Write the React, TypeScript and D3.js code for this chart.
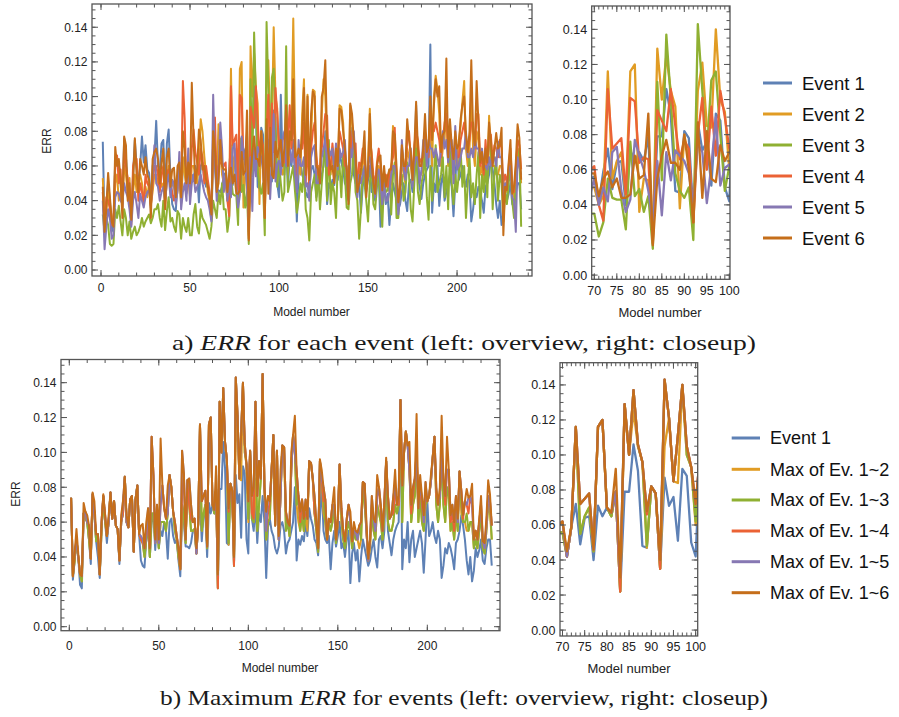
import React from "react";
import * as d3 from "d3";

// ERR for models 1–236, stored in thousandths
const EVENT_1 = [
  74,27,38,50,40,24,22,65,62,60, 50,36,76,65,49,40,28,55,75,60,
  48,60,77,62,72,58,56,36,60,65, 86,60,57,73,75,43,73,81,53,38,
  35,34,50,58,40,60,65,44,60,45, 55,52,60,55,39,60,62,52,48,50,
  38,29,65,60,46,46,45,48,55,
  56,42,59,72,49,64,65,40,71,65,70,
  65,79,22,79,79,106,91,48,47,82, 78,35,87,71,76,51,92,88,50,42,
  101,62,55,70,48,65,60,75,60,28, 57,62,55,52,45,42,46,58,60,55,
  42,48,50,55,60,80,38,50,47,52, 49,60,52,68,62,58,50,48,41,62,
  82,55,50,48,52,33,48,55,46,52, 60,45,48,40,50,55,25,42,48,38,
  44,26,40,50,45,40,35,38,45,50, 40,34,50,52,45,55,95,55,48,41,
  50,55,58,60,130,33,50,45,60,37, 50,55,40,45,50,55,48,31,50,72,
  52,55,60,52,48,55,50,28,35,45, 42,48,45,40,33,48,50,55,64,58,
  50,38,30,40,26,32,45,40,44,50, 38,36,45,50,50,35,
];
const EVENT_2 = [
  53,29,35,45,38,30,26,50,55,40, 45,39,60,55,45,53,30,45,55,45,
  52,55,50,40,48,42,50,38,45,55, 55,50,54,48,50,38,52,60,46,50,
  48,40,45,55,38,65,55,48,55,42, 60,60,55,50,65,87,80,66,55,45,
  40,33,70,65,48,84,70,55,50,
  50,40,45,116,55,65,70,45,116,120,36,
  55,54,20,129,100,125,105,96,38,80, 65,32,105,121,85,84,140,100,93,60,
  60,55,60,85,55,70,85,145,80,50, 60,55,90,110,58,101,50,75,104,103,
  55,60,52,90,110,100,70,60,55,65, 55,65,55,95,94,85,65,55,43,95,
  85,65,60,50,60,55,60,70,48,60, 93,60,50,45,55,60,55,45,55,50,
  50,45,50,83,70,55,38,45,65,55, 50,70,65,60,50,65,85,60,55,55,
  60,70,65,70,90,60,100,112,104,90, 60,70,75,100,60,75,60,55,70,60,
  75,83,97,109,70,60,70,100,70,60, 80,75,55,60,50,65,55,89,65,60,
  60,55,55,60,60,45,50,45,55,65, 45,42,55,70,65,50,
];
const EVENT_3 = [
  32,22,30,26,15,14,15,35,30,37, 28,20,35,30,20,28,18,22,25,20,
  22,25,30,25,28,30,32,27,30,35, 35,38,30,25,40,23,34,42,28,30,
  25,22,34,32,18,30,25,22,30,20, 20,32,38,25,21,35,30,28,26,22,
  18,25,40,35,30,45,38,50,35,
  35,22,30,55,44,43,43,26,76,45,49,
  36,45,15,110,54,137,100,58,48,44, 50,20,143,105,70,111,116,80,48,62,
  50,40,45,129,45,50,55,60,45,33, 40,50,45,60,35,30,17,45,50,55,
  40,58,35,50,62,70,40,75,38,50, 45,30,62,60,42,68,55,36,35,50,
  55,72,45,40,18,35,58,50,40,28, 50,62,38,35,48,55,40,25,52,45,
  46,58,32,55,62,30,30,48,55,40, 45,62,55,35,28,50,70,45,38,50,
  55,68,42,29,60,40,55,72,45,50, 55,65,42,60,35,68,50,38,55,45,
  55,70,48,60,30,50,65,42,50,38, 55,68,30,55,45,60,42,80,70,35,
  55,65,40,55,50,28,45,38,50,60, 40,30,50,60,70,25,
];
const EVENT_4 = [
  45,25,42,40,35,26,29,60,66,50, 58,35,73,60,53,45,26,60,65,64,
  40,50,45,38,55,50,48,37,50,60, 60,55,45,55,60,36,55,58,50,45,
  40,45,52,50,45,109,87,45,50,48, 70,81,68,62,55,70,65,50,60,52,
  45,30,75,88,50,60,62,62,60,
  62,40,31,106,72,75,78,46,101,99,64,
  67,66,18,94,88,82,106,85,66,77, 72,30,80,101,60,96,68,105,90,72,
  70,65,62,90,75,95,70,90,70,55, 65,72,70,85,50,75,45,70,80,85,
  66,55,58,70,80,90,89,55,60,73, 62,60,62,80,75,70,60,60,45,80,
  70,70,73,45,62,60,70,65,50,55, 75,68,55,49,62,70,60,49,52,55,
  48,55,60,65,82,50,36,50,70,62, 55,75,80,65,55,72,80,75,62,64,
  65,80,70,65,85,81,80,85,80,75, 65,75,85,90,68,80,70,60,75,65,
  65,75,80,85,75,70,75,85,85,70, 90,90,60,65,55,75,60,75,78,62,
  72,70,65,75,70,50,55,50,60,70, 49,45,58,75,72,58,
];
const EVENT_5 = [
  40,12,25,35,30,18,20,42,45,44, 40,38,50,45,42,35,25,40,45,38,
  30,44,40,36,42,45,46,38,55,72, 50,48,40,45,48,40,50,55,42,52,
  50,38,46,68,35,45,50,40,70,38, 50,55,45,48,50,55,50,45,42,40,
  35,28,101,62,40,55,85,70,45,
  55,40,50,42,70,73,48,36,43,77,68,
  60,48,30,65,34,70,54,71,68,65, 58,40,75,70,41,62,90,51,61,63,
  55,75,80,60,65,70,62,70,55,45, 75,60,60,65,48,50,40,65,70,72,
  50,50,55,65,70,75,60,70,66,70, 58,73,58,70,65,68,75,55,40,70,
  65,80,60,42,55,50,55,60,45,62, 65,55,52,42,55,58,50,38,50,40,
  40,45,55,60,60,52,32,42,75,58, 52,60,60,70,48,60,65,65,50,58,
  75,75,60,75,70,70,65,70,65,60, 70,80,70,75,62,70,75,50,83,58,
  60,65,70,70,80,65,65,70,65,75, 70,70,64,70,60,60,58,65,60,64,
  65,60,74,65,65,42,50,48,58,60, 42,40,22,65,60,55,
];
const EVENT_6 = [
  48,22,36,56,42,28,25,71,60,64, 52,30,77,72,40,50,29,50,76,55,
  45,64,60,55,65,55,52,30,64,68, 70,64,50,62,70,35,65,70,48,58,
  59,42,60,62,42,80,70,50,62,50, 108,75,50,58,81,75,58,60,52,48,
  42,32,80,70,45,50,75,60,58,
  58,45,55,59,50,55,44,44,46,68,55,
  57,92,17,55,68,77,64,64,60,80, 60,30,87,44,82,55,53,74,65,70,
  75,60,70,95,60,80,75,110,65,66, 70,65,80,105,55,100,52,90,103,100,
  60,58,50,100,105,121,75,65,58,60, 50,70,60,93,92,80,70,58,38,96,
  90,75,65,45,50,58,65,80,42,58, 90,62,50,44,60,65,66,46,60,48,
  54,58,58,80,78,60,39,48,72,60, 60,87,75,68,52,70,97,70,60,60,
  70,90,68,72,100,75,95,110,100,106, 68,78,80,122,65,87,72,64,80,70,
  72,87,95,100,78,68,80,121,80,72, 109,85,62,68,58,70,62,85,75,60,
  70,79,70,72,82,20,48,46,62,75, 44,48,62,84,76,52,
];

const COLORS = ["#5E81B5", "#E19C24", "#8FB032", "#EB6235", "#8778B3", "#C56E1A"];
const LEGEND_EACH = ["Event 1", "Event 2", "Event 3", "Event 4", "Event 5", "Event 6"];
const LEGEND_MAX = ["Event 1", "Max of Ev. 1~2", "Max of Ev. 1~3", "Max of Ev. 1~4", "Max of Ev. 1~5", "Max of Ev. 1~6"];
const Y_TICKS = [0, 0.02, 0.04, 0.06, 0.08, 0.1, 0.12, 0.14];
const OVERVIEW_TICKS = [0, 50, 100, 150, 200];
const CLOSEUP_TICKS = [70, 75, 80, 85, 90, 95, 100];

type Pt = { model: number; err: number };

const toPoints = (vals: number[]): Pt[] => vals.map((v, i) => ({ model: i + 1, err: v / 1000 }));

const EVENTS: Pt[][] = [EVENT_1, EVENT_2, EVENT_3, EVENT_4, EVENT_5, EVENT_6].map(toPoints);

// running maximum over events 1..k
const RUNNING_MAX: Pt[][] = EVENTS.map((_, k) =>
  EVENTS[0].map((p, i) => ({
    model: p.model,
    err: d3.max(EVENTS.slice(0, k + 1), (s) => s[i].err) as number,
  }))
);

type Box = { left: number; right: number; top: number; bottom: number };

interface PanelProps {
  id: string;
  box: Box;
  xDomain: [number, number];
  yDomain: [number, number];
  xTicks: number[];
  xMinor: number[];
  series: Pt[][];
  strokeWidth: number;
  tickFont: number;
  xLabelBaseline: number;
  titleX: number;
  titleBaseline: number;
  titleFont: number;
  yTitle?: { x: number; y: number };
}

const FRAME = "#555";
const TEXT = "#222";
const SANS = "'Liberation Sans', Arial, sans-serif";

function Panel(p: PanelProps) {
  const { box } = p;
  const x = d3.scaleLinear().domain(p.xDomain).range([box.left, box.right]);
  const y = d3.scaleLinear().domain(p.yDomain).range([box.bottom, box.top]);
  const line = d3
    .line<Pt>()
    .x((d) => x(d.model))
    .y((d) => y(d.err));
  const yMinor = d3.range(0, 0.1501, 0.005);
  const major = 6;
  const minor = 3.5;
  const fmt = d3.format(".2f");
  return (
    <g>
      <defs>
        <clipPath id={p.id}>
          <rect x={box.left} y={box.top} width={box.right - box.left} height={box.bottom - box.top} />
        </clipPath>
      </defs>
      <g clipPath={`url(#${p.id})`}>
        {p.series.map((s, k) => (
          <path
            key={k}
            d={line(s) ?? ""}
            fill="none"
            stroke={COLORS[k]}
            strokeWidth={p.strokeWidth}
            strokeLinejoin="round"
          />
        ))}
      </g>
      <g stroke={FRAME} strokeWidth={1}>
        {yMinor.map((v, i) => (
          <g key={`ym${i}`}>
            <line x1={box.left} x2={box.left + minor} y1={y(v)} y2={y(v)} />
            <line x1={box.right} x2={box.right - minor} y1={y(v)} y2={y(v)} />
          </g>
        ))}
        {Y_TICKS.map((v, i) => (
          <g key={`yM${i}`}>
            <line x1={box.left} x2={box.left + major} y1={y(v)} y2={y(v)} />
            <line x1={box.right} x2={box.right - major} y1={y(v)} y2={y(v)} />
          </g>
        ))}
        {p.xMinor.map((v, i) => (
          <g key={`xm${i}`}>
            <line x1={x(v)} x2={x(v)} y1={box.bottom} y2={box.bottom - minor} />
            <line x1={x(v)} x2={x(v)} y1={box.top} y2={box.top + minor} />
          </g>
        ))}
        {p.xTicks.map((v, i) => (
          <g key={`xM${i}`}>
            <line x1={x(v)} x2={x(v)} y1={box.bottom} y2={box.bottom - major} />
            <line x1={x(v)} x2={x(v)} y1={box.top} y2={box.top + major} />
          </g>
        ))}
      </g>
      <rect
        x={box.left}
        y={box.top}
        width={box.right - box.left}
        height={box.bottom - box.top}
        fill="none"
        stroke={FRAME}
        strokeWidth={1.3}
      />
      <g fontFamily={SANS} fontSize={p.tickFont} fill={TEXT}>
        {Y_TICKS.map((v, i) => (
          <text key={`yl${i}`} x={box.left - 4.5} y={y(v)} dy="0.36em" textAnchor="end">
            {fmt(v)}
          </text>
        ))}
        {p.xTicks.map((v, i) => (
          <text key={`xl${i}`} x={x(v)} y={p.xLabelBaseline} textAnchor="middle">
            {v}
          </text>
        ))}
      </g>
      <text
        x={p.titleX}
        y={p.titleBaseline}
        textAnchor="middle"
        fontFamily={SANS}
        fontSize={p.titleFont}
        fill={TEXT}
      >
        Model number
      </text>
      {p.yTitle && (
        <text
          transform={`translate(${p.yTitle.x},${p.yTitle.y}) rotate(-90)`}
          textAnchor="middle"
          dy="0.36em"
          fontFamily={SANS}
          fontSize={12}
          fill={TEXT}
        >
          ERR
        </text>
      )}
    </g>
  );
}

function Legend({ labels, x1, x2, textX, rows, size }: { labels: string[]; x1: number; x2: number; textX: number; rows: number[]; size: number }) {
  return (
    <g fontFamily={SANS} fontSize={size} fill="#111">
      {labels.map((label, k) => (
        <g key={k}>
          <line x1={x1} x2={x2} y1={rows[k]} y2={rows[k]} stroke={COLORS[k]} strokeWidth={3} />
          <text x={textX} y={rows[k]} dy="0.36em">
            {label}
          </text>
        </g>
      ))}
    </g>
  );
}

const SERIF = "'Liberation Serif', 'Times New Roman', serif";

export default function App() {
  const overviewMinor = d3.range(0, 241, 10);
  const closeupMinor = d3.range(70, 101, 1);
  return (
    <svg
      width={899}
      height={717}
      viewBox="0 0 899 717"
      style={{ position: "absolute", left: 0, top: 0, background: "#fff" }}
    >
      <rect x={0} y={0} width={899} height={717} fill="#fff" />

      <Panel
        id="clip-a1"
        box={{ left: 92, right: 532, top: 4, bottom: 276 }}
        xDomain={[-5.06, 242.1]}
        yDomain={[-0.00346, 0.1534]}
        xTicks={OVERVIEW_TICKS}
        xMinor={overviewMinor}
        series={EVENTS}
        strokeWidth={2}
        tickFont={12}
        xLabelBaseline={291.5}
        titleX={311.5}
        titleBaseline={316}
        titleFont={12}
        yTitle={{ x: 47, y: 141 }}
      />
      <Panel
        id="clip-a2"
        box={{ left: 591.7, right: 730, top: 6, bottom: 279.3 }}
        xDomain={[69.42, 100.15]}
        yDomain={[-0.0024, 0.1533]}
        xTicks={CLOSEUP_TICKS}
        xMinor={closeupMinor}
        series={EVENTS}
        strokeWidth={2.3}
        tickFont={12.5}
        xLabelBaseline={295}
        titleX={660}
        titleBaseline={316.5}
        titleFont={13}
      />
      <Legend labels={LEGEND_EACH} x1={763} x2={792} textX={802} rows={[83, 114, 145, 176, 207, 238]} size={18.5} />

      <text x={172} y={350} fontFamily={SERIF} fontSize={22} fill="#1a1a1a" textLength={584} lengthAdjust="spacingAndGlyphs">
        a) <tspan fontStyle="italic">ERR</tspan> for each event (left: overview, right: closeup)
      </text>

      <Panel
        id="clip-b1"
        box={{ left: 61, right: 500, top: 359.5, bottom: 630.7 }}
        xDomain={[-4.64, 240.6]}
        yDomain={[-0.0023, 0.1533]}
        xTicks={OVERVIEW_TICKS}
        xMinor={overviewMinor}
        series={RUNNING_MAX}
        strokeWidth={2}
        tickFont={12}
        xLabelBaseline={649.5}
        titleX={280}
        titleBaseline={672}
        titleFont={12}
        yTitle={{ x: 16, y: 494 }}
      />
      <Panel
        id="clip-b2"
        box={{ left: 560, right: 697.7, top: 362.7, bottom: 636 }}
        xDomain={[69.44, 100.46]}
        yDomain={[-0.0034, 0.1527]}
        xTicks={CLOSEUP_TICKS}
        xMinor={closeupMinor}
        series={RUNNING_MAX}
        strokeWidth={2.3}
        tickFont={12.5}
        xLabelBaseline={650.5}
        titleX={629}
        titleBaseline={672.7}
        titleFont={13}
      />
      <Legend labels={LEGEND_MAX} x1={731.7} x2={760} textX={770} rows={[438, 469.3, 500, 531, 561.7, 592.7]} size={18} />

      <text x={160} y={705} fontFamily={SERIF} fontSize={22} fill="#1a1a1a" textLength={608} lengthAdjust="spacingAndGlyphs">
        b) Maximum <tspan fontStyle="italic">ERR</tspan> for events (left: overview, right: closeup)
      </text>
    </svg>
  );
}
